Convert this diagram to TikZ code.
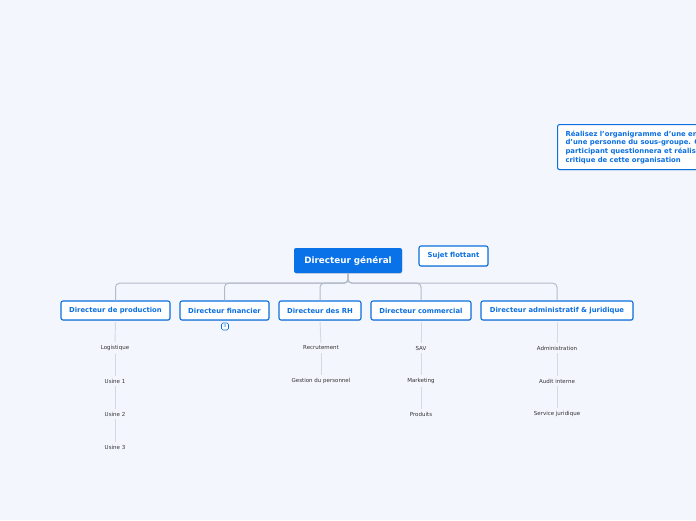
\documentclass[tikz,border=0pt]{standalone}
\usepackage{fontspec}
\setmainfont{DejaVu Sans}
\usepackage{xcolor}
\usetikzlibrary{shadows}
\definecolor{mmbg}{HTML}{F3F6FD}
\definecolor{mmblue}{HTML}{0B6FE0}
\definecolor{mmroot}{HTML}{0A72E8}
\definecolor{mmline}{HTML}{B4BBC8}
\definecolor{mmtwig}{HTML}{D3D8E2}
\definecolor{mmtext}{HTML}{333333}
\begin{document}
\begin{tikzpicture}[x=1pt,y=-1pt,line join=round,
  topic/.style={draw=mmblue,fill=white,rounded corners=2pt,line width=1.1pt,text=mmblue,
    font=\fontsize{6.85}{7}\selectfont\bfseries,minimum height=19pt,inner sep=0pt,
    drop shadow={shadow xshift=0.4pt,shadow yshift=-0.8pt,opacity=0.25}},
  leaf/.style={font=\fontsize{5.5}{6}\selectfont,text=mmtext,inner sep=1.5pt},
  branch/.style={draw=mmline,line width=1pt,rounded corners=4pt},
  twig/.style={draw=mmtwig,line width=0.9pt,shorten <=1.5pt,shorten >=1.5pt}]
  \useasboundingbox[fill=mmbg] (0,0) rectangle (696,520);
  \clip (0,0) rectangle (696,520);
  \node[fill=mmroot,rounded corners=2pt,text=white,font=\fontsize{8.8}{9}\selectfont\bfseries,
    minimum width=108pt,minimum height=25pt,inner sep=0pt,
    drop shadow={shadow xshift=0.4pt,shadow yshift=-0.8pt,opacity=0.25}] (dg) at (348,260.5) {Directeur général};
  \node[topic,minimum width=69pt,minimum height=20pt] (flot) at (453.5,256) {Sujet flottant};
  \node[topic,anchor=north west,minimum height=45pt,inner xsep=8pt,align=left,
    font=\fontsize{6.85}{8.7}\selectfont\bfseries] (note) at (557,124)
    {Réalisez l'organigramme d'une entreprise\\d'une personne du sous-groupe. Chaque\\participant questionnera et réalisera la\\critique de cette organisation};
  \node[topic,minimum width=109pt] (prod) at (115.5,310.5) {Directeur de production};
  \node[topic,minimum width=89pt] (fin) at (224.5,310.5) {Directeur financier};
  \node[topic,minimum width=82pt] (rh) at (320,310.5) {Directeur des RH};
  \node[topic,minimum width=100pt] (com) at (421,310.5) {Directeur commercial};
  \node[topic,minimum width=152pt] (adm) at (557,310.5) {Directeur administratif \& juridique};
  \draw[branch] (dg.south) -- ++(0,10) -| (prod.north);
  \draw[branch] (dg.south) -- ++(0,10) -| (fin.north);
  \draw[branch] (dg.south) -- ++(0,10) -| (rh.north);
  \draw[branch] (dg.south) -- ++(0,10) -| (com.north);
  \draw[branch] (dg.south) -- ++(0,10) -| (adm.north);
  \node[draw=mmblue,fill=white,rounded corners=1.5pt,line width=0.6pt,text=mmblue,
    font=\fontsize{4}{4}\selectfont,minimum size=7pt,inner sep=0pt] (fin3) at (225,326.5) {3};
  \node[leaf] (log) at (115,348) {Logistique};
  \node[leaf] (us1) at (115,381) {Usine 1};
  \node[leaf] (us2) at (115,414) {Usine 2};
  \node[leaf] (us3) at (115,447) {Usine 3};
  \node[leaf] (recr) at (321,348) {Recrutement};
  \node[leaf] (gest) at (321,381) {Gestion du personnel};
  \node[leaf] (sav) at (421,348) {SAV};
  \node[leaf] (mark) at (421,381) {Marketing};
  \node[leaf] (prd) at (421,414) {Produits};
  \node[leaf] (admin) at (557,348) {Administration};
  \node[leaf] (audit) at (557,381) {Audit interne};
  \node[leaf] (jur) at (557,414) {Service juridique};
  \draw[twig] (prod.south) -- (log.north);
  \draw[twig] (log.south) -- (us1.north);
  \draw[twig] (us1.south) -- (us2.north);
  \draw[twig] (us2.south) -- (us3.north);
  \draw[twig] (rh.south) -- (recr.north);
  \draw[twig] (recr.south) -- (gest.north);
  \draw[twig] (com.south) -- (sav.north);
  \draw[twig] (sav.south) -- (mark.north);
  \draw[twig] (mark.south) -- (prd.north);
  \draw[twig] (adm.south) -- (admin.north);
  \draw[twig] (admin.south) -- (audit.north);
  \draw[twig] (audit.south) -- (jur.north);
\end{tikzpicture}
\end{document}
